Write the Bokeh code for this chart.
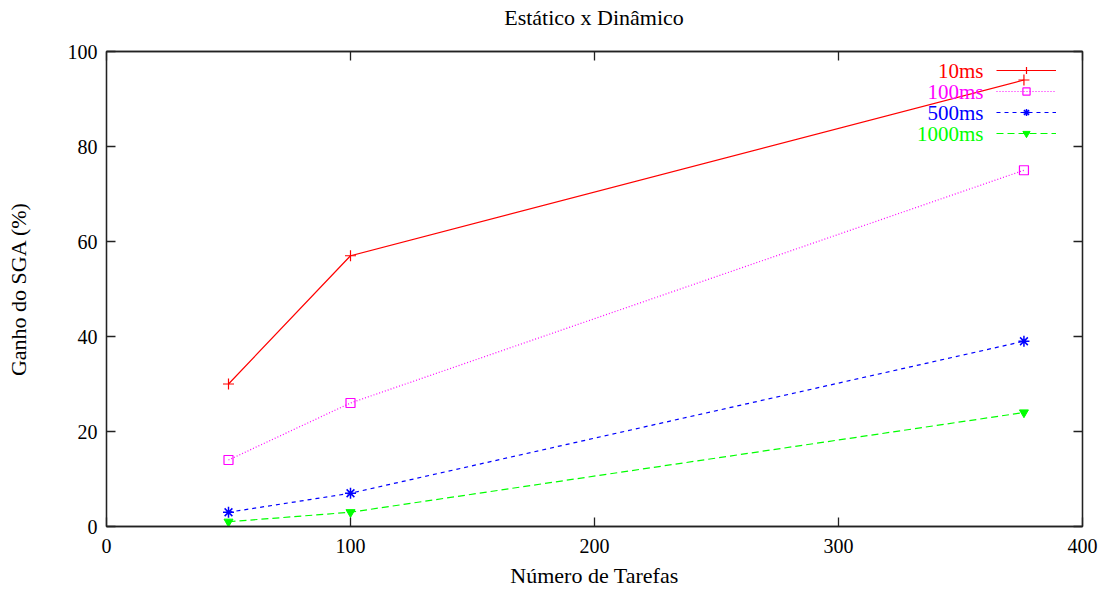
from bokeh.plotting import figure
from bokeh.models import (LinearAxis, Range1d, Legend, LegendItem, Label, FixedTicker,
                          CustomLabelingPolicy, Div)
from bokeh.layouts import column
from bokeh.core.properties import value
from bokeh.embed import file_html
from bokeh.resources import INLINE

tasks = [50, 100, 376]
series_names = ["10ms", "100ms", "500ms", "1000ms"]
gain_10ms = [30, 57, 94]
gain_100ms = [14, 26, 75]
gain_500ms = [3, 7, 39]
gain_1000ms = [1, 3, 24]
x_ticks = [0, 100, 200, 300, 400]
y_ticks = [0, 20, 40, 60, 80, 100]
title_text = "Estático x Dinâmico"

FONT = "Liberation Serif"

title_div = Div(
    text=('<div style="width:976px;text-align:center;font-family:\'Liberation Serif\';'
          'font-size:22px;line-height:36px;color:black;">' + title_text + '</div>'),
    width=976, height=36, margin=(0, 0, 0, 106))

p = figure(width=1104, height=554, output_backend="svg", toolbar_location=None,
           x_range=Range1d(0, 400), y_range=Range1d(0, 100),
           min_border_left=106, min_border_right=22, min_border_top=15, min_border_bottom=64)
p.grid.visible = False
p.outline_line_color = "#222222"
p.outline_line_width = 1.3
p.background_fill_color = "white"
p.border_fill_color = "white"

hide_all = CustomLabelingPolicy(code="""
    for (const i of Array.from(indices)) indices.unset(i)
    return indices
""")

def style_axis(ax, show_labels=True):
    ax.major_tick_in = 9
    ax.major_tick_out = 0
    ax.minor_tick_in = 0
    ax.minor_tick_out = 0
    ax.axis_line_color = "#222222"
    ax.axis_line_width = 1.3
    ax.major_tick_line_color = "#222222"
    ax.major_tick_line_width = 1.3
    ax.major_label_text_font = FONT
    ax.major_label_text_font_size = "20px"
    ax.major_label_text_color = "black"
    ax.axis_label_text_font = FONT
    ax.axis_label_text_font_style = "normal"
    ax.axis_label_text_font_size = "22px"
    ax.axis_label_text_color = "black"
    if not show_labels:
        ax.major_label_policy = hide_all
        ax.major_label_text_font_size = "0px"
        ax.major_label_standoff = 0

p.xaxis.ticker = FixedTicker(ticks=x_ticks)
p.yaxis.ticker = FixedTicker(ticks=y_ticks)
style_axis(p.xaxis[0])
style_axis(p.yaxis[0])
p.xaxis.axis_label = "Número de Tarefas"
p.yaxis.axis_label = "Ganho do SGA (%)"
p.xaxis.major_label_standoff = 12
p.xaxis.axis_label_standoff = 7
p.yaxis.major_label_standoff = 9
p.yaxis.axis_label_standoff = 34

top_ax = LinearAxis(ticker=FixedTicker(ticks=x_ticks))
style_axis(top_ax, False)
right_ax = LinearAxis(ticker=FixedTicker(ticks=y_ticks))
style_axis(right_ax, False)
p.add_layout(top_ax, "above")
p.add_layout(right_ax, "right")

colors = ["#ff0000", "#ff00ff", "#0000ff", "#00ff00"]
dashes = ["solid", "1 2", "4 4", "7 4"]
data = [gain_10ms, gain_100ms, gain_500ms, gain_1000ms]

items = []
for name, ys, c, d, k in zip(series_names, data, colors, dashes, range(4)):
    rl = p.line(tasks, ys, line_color=c, line_width=1.2, line_dash=d)
    if k == 0:
        rm = p.scatter(tasks, ys, marker="cross", size=11, line_color=c, line_width=1.2)
    elif k == 1:
        rm = p.scatter(tasks, ys, marker="square", size=9, line_color=c, fill_color=None, line_width=1.2)
    elif k == 2:
        rm = p.scatter(tasks, ys, marker="asterisk", size=11, line_color=c, line_width=1.5)
    else:
        rm = p.scatter(tasks, ys, marker="inverted_triangle", size=9, line_color=c, fill_color=c)
    items.append(LegendItem(label=value(""), renderers=[rl, rm]))
    lab = Label(x=877, y=456 - k * 21.3, x_units="screen", y_units="screen",
                text=name, text_align="right", text_baseline="middle",
                text_font=FONT, text_font_size="21px", text_color=c)
    p.add_layout(lab)

legend = Legend(items=items, location=(890, 384), glyph_width=60, glyph_height=18,
                label_height=18, label_width=0, label_standoff=0, spacing=3,
                padding=0, margin=0, border_line_color=None, background_fill_alpha=0,
                label_text_font_size="10px")
p.add_layout(legend, "center")

layout = column(title_div, p, spacing=0, margin=0)
open("out.html", "w").write(file_html(layout, INLINE))
